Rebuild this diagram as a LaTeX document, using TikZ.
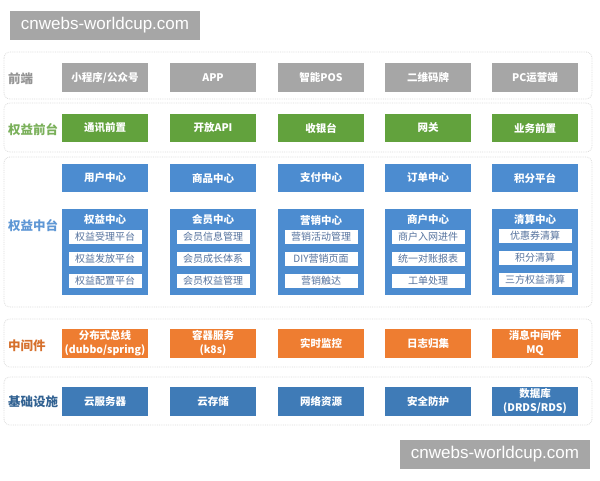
\documentclass[tikz,border=0pt]{standalone}
\usepackage{fontspec}
\setmainfont{Noto Sans CJK SC}
\newfontfamily\wmfont{Liberation Sans}
\definecolor{feGray}{HTML}{A6A6A6}
\definecolor{rtGreen}{HTML}{62A23D}
\definecolor{ctBlue}{HTML}{4C8CD0}
\definecolor{mwOrange}{HTML}{EE7D31}
\definecolor{inBlue}{HTML}{3F7BB7}
\definecolor{subText}{HTML}{56739E}
\tikzset{panel/.style={draw=black!14, densely dotted, line width=0.8pt, rounded corners=6pt, fill=white}}
\tikzset{blk/.style={minimum width=86pt, minimum height=28.5pt, inner sep=0pt, text=white, align=center, font=\fontsize{10.5}{14}\selectfont\bfseries}}
\tikzset{bigblk/.style={fill=ctBlue, minimum width=86pt, minimum height=86pt, inner sep=0pt}}
\tikzset{sub/.style={fill=white, minimum width=73pt, minimum height=14pt, inner sep=0pt, text=subText, font=\fontsize{10}{10}\selectfont}}
\tikzset{lay/.style={anchor=west, inner sep=0pt, font=\fontsize{12.5}{12.5}\selectfont\bfseries}}
\tikzset{wm/.style={fill=feGray, minimum width=190pt, minimum height=29.5pt, inner sep=0pt, text=white, font=\wmfont\fontsize{17}{17}\selectfont}}

\begin{document}
\begin{tikzpicture}[x=1pt,y=-1pt]
  \useasboundingbox [fill=white] (0,0) rectangle (600,480);
  % watermarks
  \node [wm] (wmtop) at (105,25.5) {cnwebs-worldcup.com};
  \node [wm] (wmbot) at (495,454.5) {cnwebs-worldcup.com};
  % layer panels
  \draw [panel] (4,52) rectangle (592,99);
  \draw [panel] (4,103) rectangle (592,152);
  \draw [panel] (4,157) rectangle (592,307);
  \draw [panel] (4,319) rectangle (592,367);
  \draw [panel] (4,377) rectangle (592,425);
  % layer labels
  \node [lay, text=black!42] (lfe) at (8,79) {前端};
  \node [lay, text=rtGreen!85] (lrt) at (8,130) {权益前台};
  \node [lay, text=ctBlue!90] (lct) at (8,226) {权益中台};
  \node [lay, text=mwOrange!90!black] (lmw) at (8,346) {中间件};
  \node [lay, text=inBlue!80!black] (lin) at (8,402) {基础设施};
  % front end
  \node [blk, fill=feGray] (fe1) at (105,77.5) {小程序/公众号};
  \node [blk, fill=feGray] (fe2) at (213,77.5) {APP};
  \node [blk, fill=feGray] (fe3) at (321,77.5) {智能POS};
  \node [blk, fill=feGray] (fe4) at (428,77.5) {二维码牌};
  \node [blk, fill=feGray] (fe5) at (535,77.5) {PC运营端};
  % rights front office
  \node [blk, fill=rtGreen] (rt1) at (105,128) {通讯前置};
  \node [blk, fill=rtGreen] (rt2) at (213,128) {开放API};
  \node [blk, fill=rtGreen] (rt3) at (321,128) {收银台};
  \node [blk, fill=rtGreen] (rt4) at (428,128) {网关};
  \node [blk, fill=rtGreen] (rt5) at (535,128) {业务前置};
  % rights middle office
  \node [blk, fill=ctBlue] (ct1) at (105,178) {用户中心};
  \node [blk, fill=ctBlue] (ct2) at (213,178) {商品中心};
  \node [blk, fill=ctBlue] (ct3) at (321,178) {支付中心};
  \node [blk, fill=ctBlue] (ct4) at (428,178) {订单中心};
  \node [blk, fill=ctBlue] (ct5) at (535,178) {积分平台};
  \foreach \x/\n in {105/1,213/2,321/3,428/4,535/5}
    \node [bigblk] (big\n) at (\x,252) {};
  \node [blk, minimum height=14pt] (hd1) at (105,220) {权益中心};
  \node [sub] (s11) at (105,237) {权益受理平台};
  \node [sub] (s12) at (105,259) {权益发放平台};
  \node [sub] (s13) at (105,281) {权益配置平台};
  \node [blk, minimum height=14pt] (hd2) at (213,220) {会员中心};
  \node [sub] (s21) at (213,237) {会员信息管理};
  \node [sub] (s22) at (213,259) {会员成长体系};
  \node [sub] (s23) at (213,281) {会员权益管理};
  \node [blk, minimum height=14pt] (hd3) at (321,220) {营销中心};
  \node [sub] (s31) at (321,237) {营销活动管理};
  \node [sub] (s32) at (321,259) {DIY营销页面};
  \node [sub] (s33) at (321,281) {营销触达};
  \node [blk, minimum height=14pt] (hd4) at (428,220) {商户中心};
  \node [sub] (s41) at (428,237) {商户入网进件};
  \node [sub] (s42) at (428,259) {统一对账报表};
  \node [sub] (s43) at (428,281) {工单处理};
  \node [blk, minimum height=14pt] (hd5) at (535,219) {清算中心};
  \node [sub] (s51) at (535,236) {优惠券清算};
  \node [sub] (s52) at (535,258) {积分清算};
  \node [sub] (s53) at (535,280) {三方权益清算};
  % middleware
  \node [blk, fill=mwOrange] (mw1) at (105,343.5) {分布式总线\\(dubbo/spring)};
  \node [blk, fill=mwOrange] (mw2) at (213,343.5) {容器服务\\(k8s)};
  \node [blk, fill=mwOrange] (mw3) at (321,343.5) {实时监控};
  \node [blk, fill=mwOrange] (mw4) at (428,343.5) {日志归集};
  \node [blk, fill=mwOrange] (mw5) at (535,343.5) {消息中间件\\MQ};
  % infrastructure
  \node [blk, fill=inBlue] (in1) at (105,401.5) {云服务器};
  \node [blk, fill=inBlue] (in2) at (213,401.5) {云存储};
  \node [blk, fill=inBlue] (in3) at (321,401.5) {网络资源};
  \node [blk, fill=inBlue] (in4) at (428,401.5) {安全防护};
  \node [blk, fill=inBlue] (in5) at (535,401.5) {数据库\\(DRDS/RDS)};
\end{tikzpicture}
\end{document}
